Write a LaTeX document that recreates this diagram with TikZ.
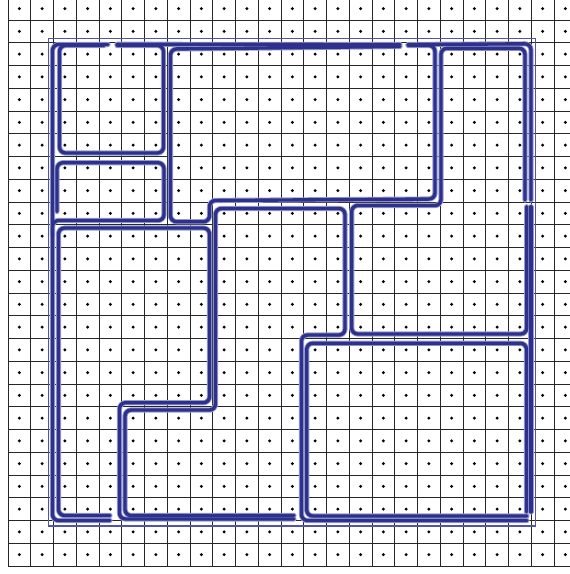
\documentclass[tikz,border=0pt]{standalone}
\pgfdeclarelayer{grid}
\pgfdeclarelayer{glow}
\pgfsetlayers{grid,glow,main}
\definecolor{penblue}{RGB}{46,49,140}
\definecolor{haloblue}{RGB}{150,155,205}
\definecolor{frameblue}{RGB}{80,85,165}
% one pen stroke: light rim below, dark ink on top
\newcommand{\inkstroke}[1]{%
  \begin{pgfonlayer}{glow}\draw[inkglow] #1;\end{pgfonlayer}%
  \draw[inkline] #1;}
\begin{document}
\begin{tikzpicture}[x=1pt, y=-1pt,
        gridline/.style={draw=black!85, line width=0.9pt},
        inkglow/.style={draw=haloblue, line width=5.2pt, line cap=round, line join=round, rounded corners=6pt},
        inkline/.style={draw=penblue, line width=3.4pt, line cap=round, line join=round, rounded corners=6pt},
        frameline/.style={draw=frameblue, line width=1.1pt}
    ]
        \useasboundingbox (0,0) rectangle (570,574);

        % Grid of cells, one dot per cell
        \begin{pgfonlayer}{grid}
        \foreach \i in {0,...,24}
            \draw[gridline] ({8+22.75*\i},0) -- ({8+22.75*\i},566);
        \foreach \j in {0,...,24}
            \draw[gridline] (8,{566-22.75*\j}) -- (570,{566-22.75*\j});
        \foreach \i in {0,...,24}
            \foreach \j in {0,...,24}
                \fill ({19.375+22.75*\i},{554.625-22.75*\j}) circle (1.7pt);
        \end{pgfonlayer}

        % Thin frame
        \draw[frameline] (48.3,38.3) rectangle (535.7,526);

        % Outer contour
        \inkstroke{(108,44.5) -- (52.5,44.5) -- (52.5,520.5) -- (110,520.5)}
        \inkstroke{(117,44.3) -- (400,44.5)}
        \inkstroke{(408,44.5) -- (531,43.8) -- (531,200)}
        \inkstroke{(531,206.7) -- (531,512)}

        % Top-left square and the box below it
        \inkstroke{(117,45.5) -- (163.5,45.5) -- (163.5,153) -- (59.5,153) -- (59.5,45.5) -- (104,45.5)}
        \inkstroke{(57,211.5) -- (57,162.7) -- (164,162.7) -- (164,220.5) -- (52.5,220.5) -- (52.5,236)}

        % Wide top region
        \inkstroke{(408,45.5) -- (435,45.5) -- (435,199) -- (209.5,200.5) -- (209.5,221.7) -- (170.5,221.7) -- (170.5,49) -- (400,46.5)}

        % Left region
        \inkstroke{(110,515.5) -- (58.5,515.5) -- (58.5,228) -- (209.5,228) -- (209.5,402.7) -- (119.5,402.7) -- (119.5,519) -- (294,519)}

        % Middle region
        \inkstroke{(294,515.5) -- (125,515.5) -- (125,410) -- (215.5,410) -- (215.5,208.5) -- (345,208.5) -- (345,335) -- (301.5,335) -- (301.5,520.5) -- (527,520.5)}

        % Right region
        \inkstroke{(526.7,206.7) -- (526.7,334) -- (351.7,334) -- (351.7,205.5) -- (441,205.5) -- (441,48.3) -- (525,48.3) -- (525,200)}

        % Bottom-right square
        \inkstroke{(527,516) -- (306.7,516) -- (306.7,343.3) -- (526.5,343.3) -- (526.5,512)}
    \end{tikzpicture}
\end{document}
